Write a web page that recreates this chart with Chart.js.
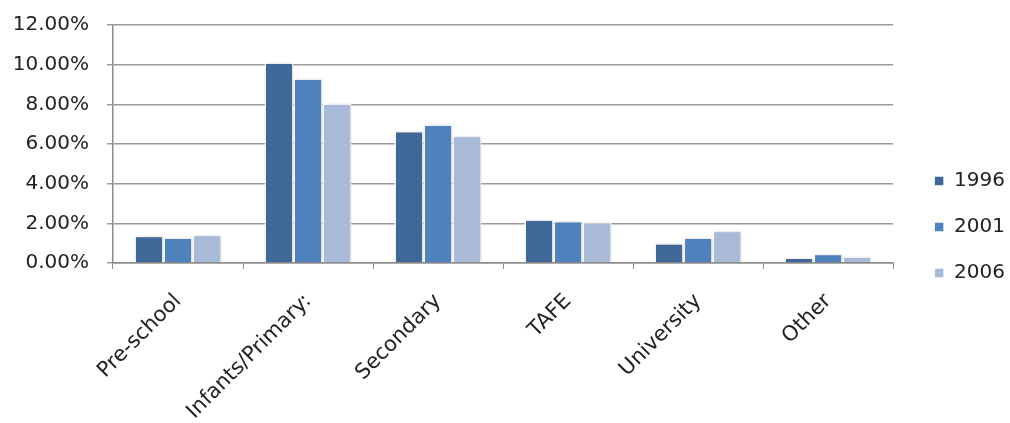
<!DOCTYPE html>
<html>
<head>
<meta charset="utf-8">
<script src="https://cdn.jsdelivr.net/npm/chart.js@4.4.0/dist/chart.umd.min.js"></script>
<style>
  html, body { margin: 0; padding: 0; background: #fff; }
  #wrap { width: 1010px; height: 423px; }
</style>
</head>
<body>
<div id="wrap"><canvas id="edu"></canvas></div>
<script>
var categories = ["Pre-school", "Infants/Primary:", "Secondary", "TAFE", "University", "Other"];
var years = ["1996", "2001", "2006"];
var v1996 = [1.37, 10.11, 6.65, 2.19, 0.99, 0.28];
var v2001 = [1.29, 9.30, 6.98, 2.12, 1.29, 0.47];
var v2006 = [1.42, 8.04, 6.42, 2.05, 1.62, 0.33];
var yTicks = [0, 2, 4, 6, 8, 10, 12];

var colors = ["#3f6797", "#4f81bd", "#a9b9d8"];
var series = [v1996, v2001, v2006];

var font = "DejaVu Sans";
var plotTop = 25;

// nudge legend: wider box (pushes plot left edge of legend) and shift items
// also pin the top of the plot area
var layoutTweak = {
    id: "layoutTweak",
    afterInit: function (chart) {
        var lg = chart.legend;
        var fit = lg.fit;
        lg.fit = function () {
            fit.call(this);
            this.width += 10;
        };
    },
    afterLayout: function (chart) {
        var lg = chart.legend;
        lg.left += 15; lg.right += 15;
        lg.top += 11; lg.bottom += 11;

        var y = chart.scales.y;
        y.top = plotTop;
        y.height = y.bottom - y.top;
        y.configure();
        chart.chartArea.top = plotTop;
        chart.chartArea.height = chart.chartArea.bottom - plotTop;
    }
};

// soft glow behind the bars
var barGlow = {
    id: "barGlow",
    beforeDatasetsDraw: function (chart) {
        var c = chart.ctx;
        c.save();
        c.shadowColor = "rgba(0,0,0,0.18)";
        c.shadowBlur = 4;
        c.shadowOffsetX = 1;
        c.shadowOffsetY = 0;
    },
    afterDatasetsDraw: function (chart) {
        chart.ctx.restore();
    }
};

window.onload = function () {
    var ctx = document.getElementById("edu").getContext("2d");
    window.eduChart = new Chart(ctx, {
        type: "bar",
        data: {
            labels: categories,
            datasets: years.map(function (y, i) {
                return {
                    label: y,
                    data: series[i],
                    backgroundColor: colors[i],
                    borderColor: "#ffffff",
                    borderWidth: 1.5,
                    categoryPercentage: 0.67,
                    barPercentage: 1.0
                };
            })
        },
        plugins: [layoutTweak, barGlow],
        options: {
            responsive: true,
            maintainAspectRatio: false,
            animation: false,
            layout: { padding: { top: 9, right: 0, left: 0, bottom: 0 } },
            plugins: {
                legend: {
                    position: "right",
                    labels: {
                        boxWidth: 10,
                        boxHeight: 10,
                        padding: 26,
                        color: "#222",
                        font: { family: font, size: 20 }
                    }
                },
                tooltip: { enabled: false }
            },
            scales: {
                x: {
                    grid: {
                        offset: true,
                        drawOnChartArea: false,
                        drawTicks: true,
                        tickLength: 6,
                        color: "#8c8c8c"
                    },
                    border: { color: "#8c8c8c", width: 1.5 },
                    ticks: {
                        color: "#222",
                        font: { family: font, size: 21 },
                        minRotation: 45,
                        maxRotation: 45,
                        padding: 20
                    },
                    afterFit: function (scale) { scale.height = 160; }
                },
                y: {
                    min: 0,
                    max: 12,
                    afterBuildTicks: function (scale) {
                        scale.ticks = yTicks.map(function (t) { return { value: t }; });
                    },
                    grid: {
                        color: "#9a9a9a",
                        lineWidth: 1.5,
                        tickLength: 6
                    },
                    border: { color: "#8c8c8c", width: 1.5 },
                    ticks: {
                        color: "#222",
                        font: { family: font, size: 20 },
                        padding: 18,
                        callback: function (v) { return v.toFixed(2) + "%"; }
                    },
                    afterFit: function (scale) { scale.width = 113; }
                }
            }
        }
    });
};
</script>
</body>
</html>
